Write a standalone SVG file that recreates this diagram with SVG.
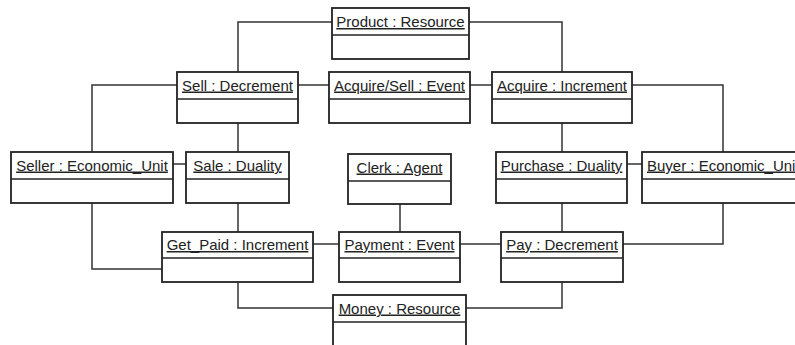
<svg xmlns="http://www.w3.org/2000/svg" width="795" height="345" viewBox="0 0 795 345">
<style>
.box{fill:#fff;stroke:#222;stroke-width:1.8}
.div{stroke:#222;stroke-width:1.5}
.t{font-family:"Liberation Sans",Arial,sans-serif;font-size:15px;fill:#222;text-anchor:middle;text-decoration:underline}
.c{fill:none;stroke:#333;stroke-width:1.5}
</style>
<rect width="795" height="345" fill="#fff"/>
<g id="connectors">
<polyline class="c" points="332,22 238,22 238,72"/>
<polyline class="c" points="469,22 562,22 562,72"/>
<line class="c" x1="298" y1="85" x2="329" y2="85"/>
<line class="c" x1="470" y1="85" x2="492" y2="85"/>
<polyline class="c" points="177,85 92,85 92,152"/>
<polyline class="c" points="632,85 723,85 723,152"/>
<line class="c" x1="238" y1="123" x2="238" y2="152"/>
<line class="c" x1="562" y1="123" x2="562" y2="152"/>
<line class="c" x1="173" y1="164" x2="186" y2="164"/>
<line class="c" x1="627" y1="164" x2="642" y2="164"/>
<polyline class="c" points="92,203 92,269 162,269"/>
<line class="c" x1="238" y1="203" x2="238" y2="232"/>
<line class="c" x1="400" y1="204" x2="400" y2="232"/>
<line class="c" x1="562" y1="203" x2="562" y2="232"/>
<polyline class="c" points="723,203 723,244 623,244"/>
<line class="c" x1="313" y1="244" x2="339" y2="244"/>
<line class="c" x1="460" y1="244" x2="501" y2="244"/>
<polyline class="c" points="238,282 238,308 333,308"/>
<polyline class="c" points="562,282 562,308 466,308"/>
</g>
<g id="product"><rect class="box" x="332" y="8" width="137" height="51"/><line class="div" x1="332" y1="35" x2="469" y2="35"/><text class="t" x="400.5" y="27">Product : Resource</text></g>
<g id="sell"><rect class="box" x="177" y="72" width="121" height="51"/><line class="div" x1="177" y1="99" x2="298" y2="99"/><text class="t" x="237.5" y="90.5">Sell : Decrement</text></g>
<g id="acquiresell"><rect class="box" x="329" y="72" width="141" height="51"/><line class="div" x1="329" y1="99" x2="470" y2="99"/><text class="t" x="399.5" y="90.5">Acquire/Sell : Event</text></g>
<g id="acquire"><rect class="box" x="492" y="72" width="140" height="51"/><line class="div" x1="492" y1="99" x2="632" y2="99"/><text class="t" x="562" y="90.5">Acquire : Increment</text></g>
<g id="seller"><rect class="box" x="11" y="152" width="162" height="51"/><line class="div" x1="11" y1="179" x2="173" y2="179"/><text class="t" x="92" y="170.5">Seller : Economic_Unit</text></g>
<g id="sale"><rect class="box" x="186" y="152" width="103" height="51"/><line class="div" x1="186" y1="179" x2="289" y2="179"/><text class="t" x="237.5" y="170.5">Sale : Duality</text></g>
<g id="clerk"><rect class="box" x="348" y="154" width="103" height="50"/><line class="div" x1="348" y1="181" x2="451" y2="181"/><text class="t" x="399.5" y="172.5">Clerk : Agent</text></g>
<g id="purchase"><rect class="box" x="496" y="152" width="131" height="51"/><line class="div" x1="496" y1="179" x2="627" y2="179"/><text class="t" x="561.5" y="170.5">Purchase : Duality</text></g>
<g id="buyer"><rect class="box" x="642" y="152" width="165" height="51"/><line class="div" x1="642" y1="179" x2="807" y2="179"/><text class="t" x="647" y="170.5" style="text-anchor:start">Buyer : Economic_Unit</text></g>
<g id="getpaid"><rect class="box" x="162" y="232" width="151" height="50"/><line class="div" x1="162" y1="258" x2="313" y2="258"/><text class="t" x="237.5" y="250">Get_Paid : Increment</text></g>
<g id="payment"><rect class="box" x="339" y="232" width="121" height="50"/><line class="div" x1="339" y1="258" x2="460" y2="258"/><text class="t" x="399.5" y="250">Payment : Event</text></g>
<g id="pay"><rect class="box" x="501" y="232" width="122" height="50"/><line class="div" x1="501" y1="258" x2="623" y2="258"/><text class="t" x="562" y="250">Pay : Decrement</text></g>
<g id="money"><rect class="box" x="333" y="295" width="133" height="60"/><line class="div" x1="333" y1="322" x2="466" y2="322"/><text class="t" x="399.5" y="313.5">Money : Resource</text></g>
</svg>
